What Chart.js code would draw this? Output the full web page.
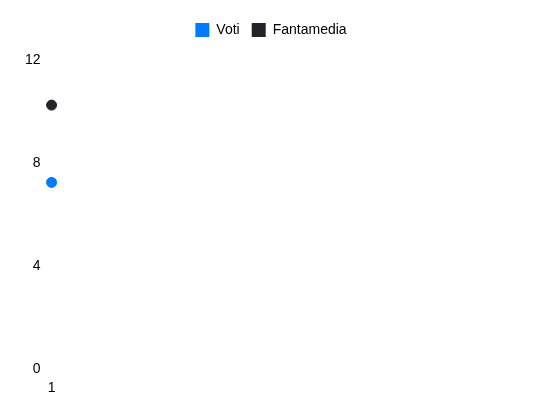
<!DOCTYPE html>
<html>
<head>
<meta charset="utf-8">
<script src="https://cdn.jsdelivr.net/npm/chart.js"></script>
<style>
    html, body { margin: 0; padding: 0; background: #fff; }
    #wrap { width: 550px; height: 412px; }
</style>
</head>
<body>
<div id="wrap"><canvas id="chart"></canvas></div>
<script>
// Chart data
const giornate = ['1'];
const voti = [7.25];
const fantamedia = [10.25];
const yTicks = [0, 4, 8, 12];

const FONT = { size: 14, family: 'Liberation Sans, Arial, sans-serif' };

// Extra room under the legend
const legendSpacer = {
    id: 'legendSpacer',
    beforeInit(chart) {
        const origFit = chart.legend.fit;
        chart.legend.fit = function() {
            origFit.bind(chart.legend)();
            this.height += 13;
        };
    }
};

const ctx = document.getElementById('chart');
new Chart(ctx, {
    type: 'line',
    data: {
        labels: giornate,
        datasets: [{
            label: 'Voti',
            data: voti,
            borderColor: '#007bff',
            backgroundColor: '#007bff',
            pointRadius: 5,
            fill: false
        }, {
            label: 'Fantamedia',
            data: fantamedia,
            borderColor: '#212529',
            backgroundColor: '#212529',
            pointRadius: 5,
            fill: false
        }]
    },
    options: {
        responsive: true,
        maintainAspectRatio: false,
        animation: false,
        layout: {
            padding: { top: 11, left: 22, right: 30, bottom: 12 }
        },
        plugins: {
            legend: {
                labels: {
                    color: '#000',
                    boxWidth: 14,
                    boxHeight: 14,
                    padding: 12,
                    font: FONT,
                    generateLabels: function(chart) {
                        const items = Chart.defaults.plugins.legend.labels.generateLabels(chart);
                        items.forEach(it => { it.lineWidth = 0; });
                        return items;
                    }
                }
            },
            tooltip: { enabled: false }
        },
        scales: {
            y: {
                min: yTicks[0],
                max: yTicks[yTicks.length - 1],
                afterBuildTicks: function(axis) {
                    axis.ticks = yTicks.map(v => ({ value: v }));
                },
                border: { display: false },
                grid: { display: false },
                ticks: { color: '#000', font: FONT }
            },
            x: {
                border: { display: false },
                grid: { display: false },
                ticks: { color: '#000', font: FONT }
            }
        }
    },
    plugins: [legendSpacer]
});
</script>
</body>
</html>
